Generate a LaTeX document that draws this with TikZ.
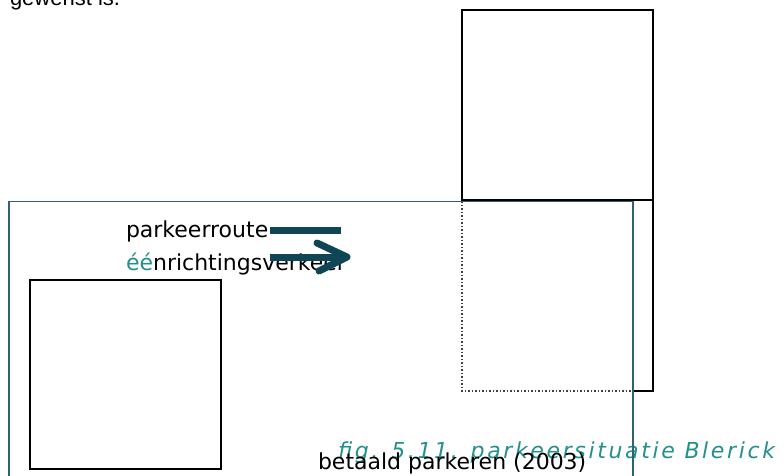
\documentclass[tikz,border=0pt]{standalone}
\usepackage{fontspec}
\setmainfont{Liberation Sans}
\newfontfamily\dvfont{DejaVu Sans}
\newfontfamily\figfont[LetterSpace=12]{DejaVu Sans}
\definecolor{tealtxt}{HTML}{23908C}
\definecolor{framec}{HTML}{2F6170}
\definecolor{arrowc}{HTML}{0E4656}
\begin{document}
\begin{tikzpicture}[x=1pt,y=-1pt,
  lbl/.style={anchor=base west,inner sep=0pt,outer sep=0pt},
  box/.style={draw=black,line width=2pt},
  symb/.style={draw=arrowc,line width=7pt}]
\useasboundingbox (0,0) rectangle (784,476);
\begin{scope}
\clip (0,0) rectangle (784,476);
% texts
\node[lbl,font=\fontsize{22}{26}\selectfont] (gew) at (10,6) {gewenst is.};
\node[lbl,font=\dvfont\fontsize{22}{26}\selectfont] (route) at (126,237.5) {parkeerroute};
\node[lbl,font=\dvfont\fontsize{22}{26}\selectfont] (eenr) at (126,270) {\textcolor{tealtxt}{éé}nrichtingsverkeer};
\node[lbl,font=\figfont\itshape\fontsize{22}{26}\selectfont,text=tealtxt] (fig) at (338,458) {fig. 5.11. parkeersituatie Blerick};
\node[lbl,font=\dvfont\fontsize{22}{26}\selectfont] (betaald) at (318,469) {betaald parkeren (2003)};
% boxes
\draw[box] (462,10) rectangle (653,200);
\draw[box] (30,280) rectangle (221,469);
\draw[box] (462,200) -- (653,200) -- (653,391) -- (633,391);
\draw[draw=black!75,line width=1.5pt,dotted] (462,201) -- (462,391) -- (633,391);
% frame
\draw[draw=framec,line width=1.5pt] (9,480) -- (9,201.5) -- (633,201.5) -- (633,480);
% symbols
\draw[symb,line cap=butt] (270,230) -- (341,230);
\draw[symb,line cap=butt] (270,257) -- (344,257);
\draw[symb,line cap=round,line join=round] (317,243) -- (347,257) -- (319,271);
\end{scope}
\end{tikzpicture}
\end{document}
